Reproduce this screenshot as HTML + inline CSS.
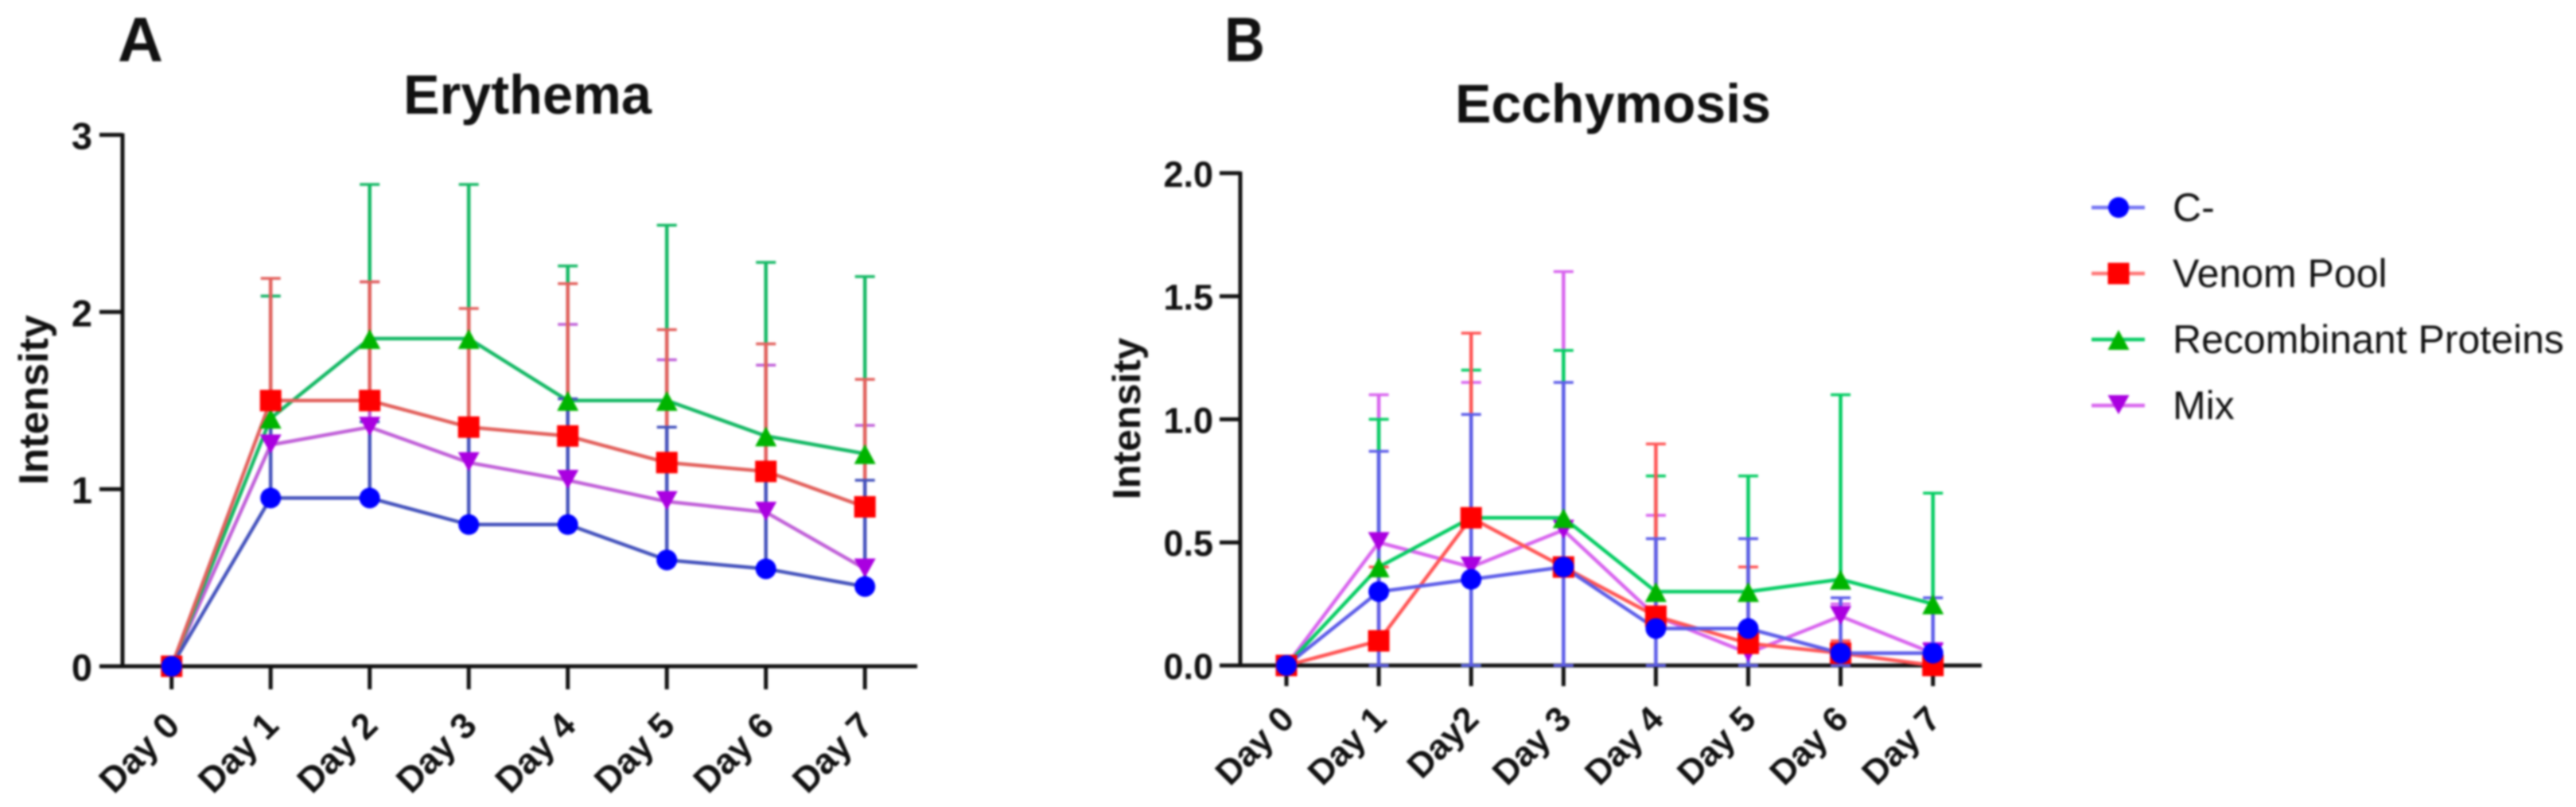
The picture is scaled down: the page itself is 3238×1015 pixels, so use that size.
<!DOCTYPE html>
<html lang="en">
<head>
<meta charset="utf-8">
<title>Erythema and Ecchymosis intensity</title>
<style>
html,body{margin:0;padding:0;background:#fff;width:3238px;height:1015px;overflow:hidden}
svg{display:block;filter:blur(1.3px);font-family:"Liberation Sans",Arial,sans-serif}
text{fill:#111}
</style>
</head>
<body>
<svg id="figure" xmlns="http://www.w3.org/2000/svg" width="3238" height="1015" viewBox="0 0 3238 1015">
  <rect x="0" y="0" width="3238" height="1015" fill="#fff"/>
  <text x="148" y="77" font-size="79" font-weight="bold">A</text>
  <text x="1539" y="77" font-size="79" font-weight="bold" textLength="51" lengthAdjust="spacingAndGlyphs">B</text>
  <text x="507" y="143" font-size="70" font-weight="bold" textLength="312" lengthAdjust="spacingAndGlyphs">Erythema</text>
  <text x="1829" y="154" font-size="69" font-weight="bold" textLength="397" lengthAdjust="spacingAndGlyphs">Ecchymosis</text>
  <text transform="translate(60 503) rotate(-90)" text-anchor="middle" font-size="52" font-weight="bold">Intensity</text>
  <text transform="translate(1433 526.5) rotate(-90)" text-anchor="middle" font-size="49.5" font-weight="bold">Intensity</text>
  <g id="chart-a"></g>
  <g id="chart-b"></g>
  <g id="legend"></g>
</svg>
<script>
// ---- Shared categories and series names
const seriesNames = ["C-", "Venom Pool", "Recombinant Proteins", "Mix"];
const seriesKeys = ["c-minus", "venom-pool", "recombinant-proteins", "mix"];
const markerShapes = ["circle", "square", "up", "down"];
const markerColors = ["#0000ff", "#ff0000", "#00b400", "#aa00e0"];

// ---- Panel A: Erythema
const daysA = ["Day 0", "Day 1", "Day 2", "Day 3", "Day 4", "Day 5", "Day 6", "Day 7"];
const ticksA = [0, 1, 2, 3];
const tickLabelsA = ["0", "1", "2", "3"];
const meanA_C = [0, 0.95, 0.95, 0.8, 0.8, 0.6, 0.55, 0.45];
const meanA_V = [0, 1.5, 1.5, 1.35, 1.3, 1.15, 1.1, 0.9];
const meanA_R = [0, 1.4, 1.85, 1.85, 1.5, 1.5, 1.3, 1.2];
const meanA_M = [0, 1.25, 1.35, 1.15, 1.05, 0.93, 0.87, 0.55];
const upperA_C = [0, 1.47, 1.38, 1.31, 1.51, 1.35, 1.15, 1.05];
const upperA_V = [0, 2.19, 2.17, 2.02, 2.16, 1.9, 1.82, 1.62];
const upperA_R = [0, 2.09, 2.72, 2.72, 2.26, 2.49, 2.28, 2.2];
const upperA_M = [0, 2.09, 2.17, 1.3, 1.93, 1.73, 1.7, 1.36];

// ---- Panel B: Ecchymosis
const daysB = ["Day 0", "Day 1", "Day2", "Day 3", "Day 4", "Day 5", "Day 6", "Day 7"];
const ticksB = [0, 0.5, 1, 1.5, 2];
const tickLabelsB = ["0.0", "0.5", "1.0", "1.5", "2.0"];
const meanB_C = [0, 0.3, 0.35, 0.4, 0.15, 0.15, 0.05, 0.05];
const meanB_V = [0, 0.1, 0.6, 0.4, 0.2, 0.09, 0.05, 0];
const meanB_R = [0, 0.4, 0.6, 0.6, 0.3, 0.3, 0.35, 0.25];
const meanB_M = [0, 0.5, 0.4, 0.55, 0.2, 0.05, 0.2, 0.05];
const upperB_C = [0, 0.87, 1.02, 1.15, 0.515, 0.515, 0.275, 0.275];
const upperB_V = [0, 0.4, 1.35, 0.4, 0.9, 0.4, 0.1, 0];
const upperB_R = [0, 1.0, 1.2, 1.28, 0.77, 0.77, 1.1, 0.7];
const upperB_M = [0, 1.1, 1.15, 1.6, 0.61, 0.16, 0.25, 0.09];
const lowerB_C = [0, 0, 0, 0, 0, 0, 0, 0];
const lowerB_R = [null, null, 0, null, null, null, null, null];

const NS = "http://www.w3.org/2000/svg";
function make(parent, tag, attrs, text) {
  const el = document.createElementNS(NS, tag);
  for (const k in attrs) el.setAttribute(k, attrs[k]);
  if (text !== undefined) el.textContent = text;
  parent.appendChild(el);
  return el;
}
function markerPoints(shape, cx, cy) {
  if (shape === "up") return [[cx, cy - 12], [cx + 13.5, cy + 13], [cx - 13.5, cy + 13]].join(" ");
  return [[cx - 13.5, cy - 13], [cx + 13.5, cy - 13], [cx, cy + 11]].join(" ");
}
function drawMarker(parent, shape, cx, cy, color, key) {
  let el;
  if (shape === "circle") el = make(parent, "circle", {cx: cx, cy: cy, r: 13, fill: color});
  else if (shape === "square") el = make(parent, "rect", {x: cx - 13.5, y: cy - 13.5, width: 27, height: 27, fill: color});
  else el = make(parent, "polygon", {points: markerPoints(shape, cx, cy), fill: color});
  
  
}

function drawChart(cfg) {
  const g = document.getElementById(cfg.id);
  const xScale = function (i) { return cfg.x0 + i * cfg.dx; };
  const yScale = function (v) { return cfg.y0 - v * cfg.unit; };

  // axes
  const yLine = make(g, "line", {x1: cfg.axisX, x2: cfg.axisX, y1: yScale(cfg.ticks[cfg.ticks.length - 1]) - 2, y2: cfg.y0 + 2, stroke: "#111", "stroke-width": 5});
  
  
  const xLine = make(g, "line", {x1: cfg.tickLeft, x2: cfg.axisEnd, y1: cfg.y0, y2: cfg.y0, stroke: "#111", "stroke-width": 5});
  
  

  cfg.ticks.forEach(function (t, i) {
    const y = yScale(t);
    const tick = make(g, "line", {x1: cfg.tickLeft, x2: cfg.axisX, y1: y, y2: y, stroke: "#111", "stroke-width": 5});
    
    
    const lab = make(g, "text", {x: cfg.labelRight, y: y + cfg.tickBase, "text-anchor": "end", "font-size": cfg.tickFont, "font-weight": "bold"}, cfg.tickLabels[i]);
    
    
  });
  cfg.days.forEach(function (d, i) {
    const x = xScale(i);
    const tick = make(g, "line", {x1: x, x2: x, y1: cfg.y0, y2: cfg.tickBottom, stroke: "#111", "stroke-width": 5});
    
    
    const lx = x + cfg.xLabelDx, ly = cfg.xLabelY;
    const lab = make(g, "text", {transform: "translate(" + lx + " " + ly + ") rotate(-45)", "text-anchor": "end", "font-size": cfg.xFont, "font-weight": "bold"}, d);
    
    
  });

  // series drawn back to front: Mix, Recombinant, Venom, C-
  const order = [3, 2, 1, 0];
  order.forEach(function (s) {
    const means = cfg.means[s], uppers = cfg.uppers[s], lowers = cfg.lowers[s];
    const sg = make(g, "g", {});
    
    
    const color = cfg.lineColors[s];
    means.forEach(function (m, i) {
      if (i === 0) return;
      const x = xScale(i);
      const bar = make(sg, "line", {x1: x, x2: x, y1: yScale(m), y2: yScale(uppers[i]), stroke: color, "stroke-width": 4.5});
      
      
      const cap = make(sg, "line", {x1: x - 12.5, x2: x + 12.5, y1: yScale(uppers[i]), y2: yScale(uppers[i]), stroke: color, "stroke-width": 3.5});
      
      
      if (lowers && lowers[i] !== null) {
        const low = make(sg, "line", {x1: x, x2: x, y1: yScale(m), y2: yScale(lowers[i]), stroke: color, "stroke-width": 4.5});
        
        
        const lowCap = make(sg, "line", {x1: x - 12.5, x2: x + 12.5, y1: yScale(lowers[i]), y2: yScale(lowers[i]), stroke: color, "stroke-width": 3.5});
        
        
      }
    });
    const pts = means.map(function (m, i) { return xScale(i) + "," + yScale(m); }).join(" ");
    const line = make(sg, "polyline", {points: pts, fill: "none", stroke: color, "stroke-width": 4.5, "stroke-linejoin": "round"});
    
    
  });
  order.forEach(function (s) {
    cfg.means[s].forEach(function (m, i) {
      drawMarker(g, markerShapes[s], xScale(i), yScale(m), markerColors[s], seriesKeys[s]);
    });
  });
}

drawChart({
  id: "chart-a", days: daysA, ticks: ticksA, tickLabels: tickLabelsA,
  means: [meanA_C, meanA_V, meanA_R, meanA_M],
  uppers: [upperA_C, upperA_V, upperA_R, upperA_M],
  lowers: [null, null, null, null],
  lineColors: ["#4452bc", "#e2605c", "#14b864", "#c060d8"],
  x0: 215.7, dx: 124.5, y0: 838, unit: 222.8,
  axisX: 154, tickLeft: 125, axisEnd: 1153, tickBottom: 867,
  labelRight: 116, tickBase: 18, tickFont: 47,
  xLabelDx: 12.5, xLabelY: 915, xFont: 45
});
drawChart({
  id: "chart-b", days: daysB, ticks: ticksB, tickLabels: tickLabelsB,
  means: [meanB_C, meanB_V, meanB_R, meanB_M],
  uppers: [upperB_C, upperB_V, upperB_R, upperB_M],
  lowers: [lowerB_C, null, lowerB_R, null],
  lineColors: ["#5c5ce8", "#ff5555", "#04cc62", "#d864ee"],
  x0: 1617, dx: 116.1, y0: 837, unit: 309.6,
  axisX: 1559, tickLeft: 1533, axisEnd: 2491, tickBottom: 863,
  labelRight: 1525, tickBase: 17, tickFont: 45,
  xLabelDx: 12, xLabelY: 907, xFont: 44
});

// legend
const legendRoot = document.getElementById("legend");
const legendLineColors = ["#7272f2", "#ff7474", "#04cc62", "#d864ee"];
seriesNames.forEach(function (name, i) {
  const y = 261 + i * 83;
  const row = make(legendRoot, "g", {});
  
  
  const sw = make(row, "line", {x1: 2629, x2: 2696, y1: y, y2: y, stroke: legendLineColors[i], "stroke-width": 4.5});
  
  
  drawMarker(row, markerShapes[i], 2663, y, markerColors[i], seriesKeys[i] + '-legend');
  const t = make(row, "text", {x: 2731, y: y + 17, "font-size": 50}, name);
  
  
});
</script>
</body>
</html>
